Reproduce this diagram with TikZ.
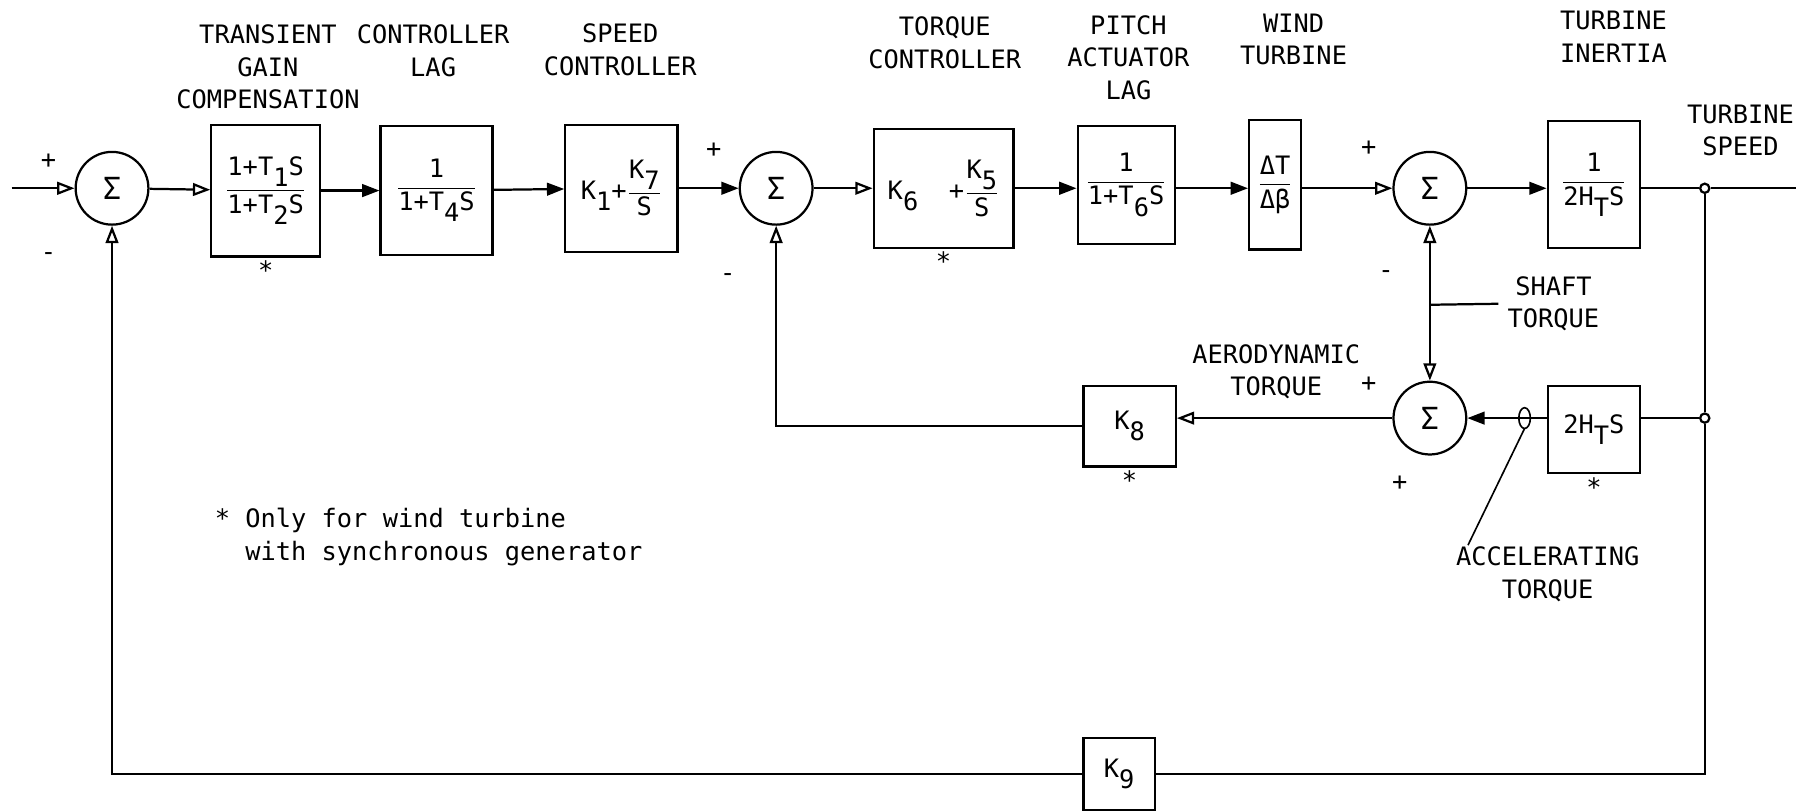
\documentclass[tikz,border=0pt]{standalone}
\usepackage{amsmath}
\usepackage{fontspec}
\setmainfont{DejaVu Sans Mono}
\usetikzlibrary{positioning,arrows.meta}

\newcommand{\dn}[1]{\raisebox{-0.8ex}{#1}}
\newcommand{\frc}[2]{$\dfrac{\text{#1}}{\text{#2}}$}

\begin{document}
\begin{tikzpicture}[
  x=0.02cm, y=-0.02cm,
  font=\fontsize{12.5}{16}\selectfont, line width=1.1pt,
  blk/.style={draw, inner sep=1pt},
  sum/.style={draw, circle, minimum size=1.26cm, inner sep=0pt, font=\fontsize{15}{15}\selectfont},
  jn/.style={draw, circle, minimum size=0.16cm, inner sep=0pt},
  lbl/.style={align=center, inner sep=0pt},
  sgn/.style={inner sep=0pt},
  arr/.style={-{Triangle[open, length=3mm, width=2.2mm]}},
  arrf/.style={-{Triangle[length=3mm, width=2.2mm]}},
  arrb/.style={{Triangle[open, length=3mm, width=2.2mm]}-{Triangle[open, length=3mm, width=2.2mm]}},
]
\useasboundingbox (0,0) rectangle (1568,703);

% forward path
\coordinate (in) at (10,163);
\node[sum] (s1) at (97,163) {Σ};
\node[blk, minimum width=1.88cm, minimum height=2.28cm] (b1) at (230,165) {\frc{1+T\dn{1}S}{1+T\dn{2}S}};
\node[blk, minimum width=1.94cm, minimum height=2.24cm] (b2) at (378,165) {\frc{1}{1+T\dn{4}S}};
\node[blk, minimum width=1.94cm, minimum height=2.2cm] (b3) at (538,163) {$\text{K\dn{1}}\text{+}\dfrac{\text{K\dn{7}}}{\text{S}}$};
\node[sum] (s2) at (672,163) {Σ};
\node[blk, minimum width=2.42cm, minimum height=2.06cm] (b4) at (817,163) {$\text{K\dn{6}\ \ }\text{+}\dfrac{\text{K\dn{5}}}{\text{S}}$};
\node[blk, minimum width=1.68cm, minimum height=2.04cm] (b5) at (975,160) {\frc{1}{1+T\dn{6}S}};
\node[blk, minimum width=0.9cm, minimum height=2.24cm] (b6) at (1104,160) {\frc{ΔT}{Δβ}};
\node[sum] (s3) at (1238,163) {Σ};
\node[blk, minimum width=1.6cm, minimum height=2.2cm] (b7) at (1380,160) {\frc{1}{2H\dn{T}S}};
\node[jn] (j1) at (1476,163) {};
\coordinate (out) at (1555,163);

% torque loop
\node[sum] (s4) at (1238,362) {Σ};
\node[blk, minimum width=1.6cm, minimum height=1.5cm] (b8) at (1380,372) {2H\dn{T}S};
\node[jn] (j2) at (1476,362) {};
\node[blk, minimum width=1.6cm, minimum height=1.4cm] (k8) at (978,369) {K\dn{8}};
\node[blk, minimum width=1.24cm, minimum height=1.24cm] (k9) at (969,670) {K\dn{9}};

% block titles
\node[lbl] (t1) at (232,58) {TRANSIENT\\GAIN\\COMPENSATION};
\node[lbl] (t2) at (375,44) {CONTROLLER\\LAG};
\node[lbl] (t3) at (537,43) {SPEED\\CONTROLLER};
\node[lbl] (t4) at (818,37) {TORQUE\\CONTROLLER};
\node[lbl] (t5) at (977,50) {PITCH\\ACTUATOR\\LAG};
\node[lbl] (t6) at (1120,34) {WIND\\TURBINE};
\node[lbl] (t7) at (1397,32) {TURBINE\\INERTIA};
\node[lbl] (t8) at (1507,113) {TURBINE\\SPEED};
\node[lbl] (shl) at (1345,263) {SHAFT\\TORQUE};
\node[lbl] (aero) at (1105,322) {AERODYNAMIC\\TORQUE};
\node[lbl] (acl) at (1340,497) {ACCELERATING\\TORQUE};
\node[lbl, align=left, anchor=west] (note) at (185,465) {* Only for wind turbine\\\phantom{* }with synchronous generator};

% signs
\node[sgn] (p1) at (42,140) {+};
\node[sgn] (m1) at (42,222) {-};
\node[sgn] (p2) at (618,130) {+};
\node[sgn] (m2) at (630,240) {-};
\node[sgn] (p3) at (1185,128) {+};
\node[sgn] (m3) at (1200,238) {-};
\node[sgn] (p4) at (1185,333) {+};
\node[sgn] (p5) at (1212,418) {+};

% asterisks
\node[sgn, below=1pt of b1] (a1) {*};
\node[sgn, below=1pt of b4] (a2) {*};
\node[sgn, below=1pt of k8] (a3) {*};
\node[sgn, below=1pt of b8] (a4) {*};

% connectors
\draw[arr] (in) -- (s1);
\draw[arr] (s1) -- (b1);
\draw[arrf] (b1) -- (b2);
\draw[arrf] (b2) -- (b3);
\draw[arrf] (b3) -- (s2);
\draw[arr] (s2) -- (b4);
\draw[arrf] (b4) -- (b5.west |- b4);
\draw[arrf] (b5.east |- s3) -- (b6.west |- s3);
\draw[arr] (b6.east |- s3) -- (s3);
\draw[arrf] (s3) -- (b7.west |- s3);
\draw (b7.east |- j1) -- (j1);
\draw (j1) -- (out);
\draw[arrb] (s3.south) -- (s4.north);
\draw ([yshift=-0.5pt]s3.south |- shl) -- ([xshift=-4pt]shl.west);
\draw (j2) -- (j2 -| b8.east);
\draw[arrf] (b8.west |- s4) -- (s4);
\draw[arr] (s4) -- (s4 -| k8.east);
\draw[arr] (k8.west) -| (s2.south);
\draw (j1) -- (j2);
\draw (j2) |- (k9.east);
\draw[arr] (k9.west) -| (s1.south);

% accelerating torque marker
\coordinate (loop) at (1320,362);
\coordinate (accend) at (1271,472);
\draw[line width=0.8pt] (loop) ellipse [x radius=1mm, y radius=1.8mm];
\draw[line width=0.8pt] ([yshift=-1.8mm]loop) -- (accend);
\end{tikzpicture}
\end{document}
